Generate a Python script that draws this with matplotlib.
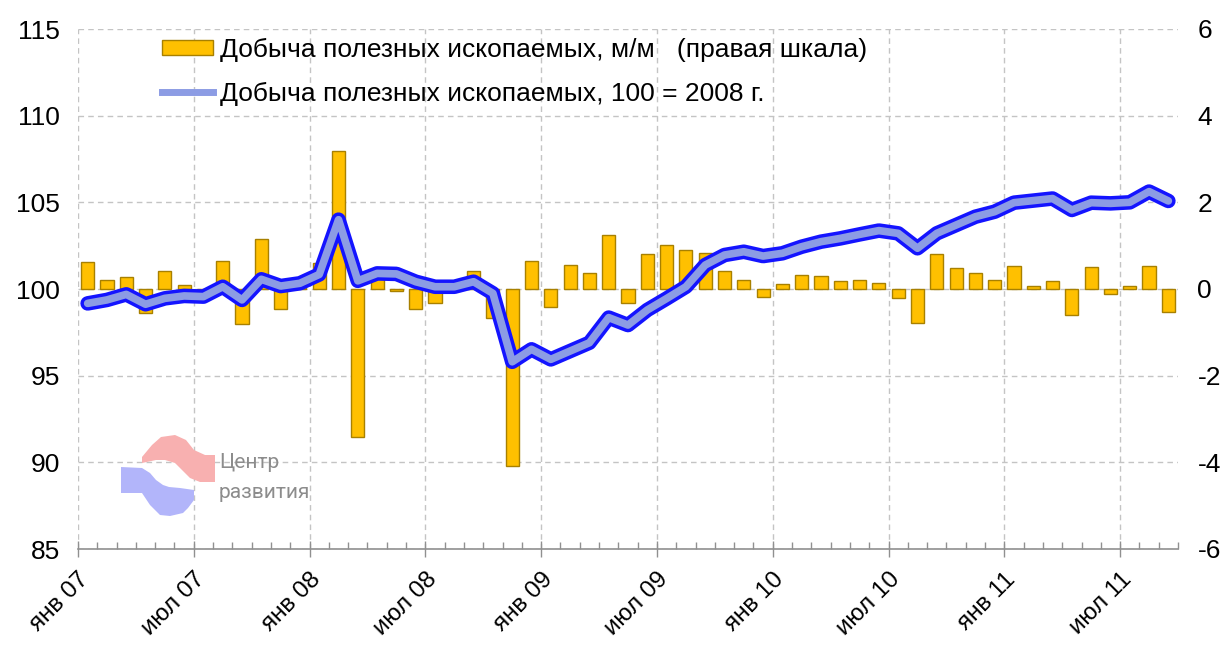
import matplotlib
matplotlib.use("Agg")
import matplotlib.pyplot as plt
from matplotlib.lines import Line2D
from matplotlib.patches import Patch, Polygon
import numpy as np

plt.rcParams['font.family'] = ['Liberation Sans', 'DejaVu Sans']
plt.rcParams['axes.unicode_minus'] = False

# Monthly data Jan 2007 .. Sep 2011
months = [f"{m} {y:02d}" for y in range(7, 12) for m in
          ["янв", "фев", "мар", "апр", "май", "июн", "июл", "авг", "сен", "окт", "ноя", "дек"]][:57]

mom_change = [0.62, 0.21, 0.28, -0.56, 0.42, 0.09, -0.06, 0.65, -0.80, 1.15,
              -0.45, 0.05, 0.59, 3.19, -3.42, 0.22, -0.05, -0.47, -0.33, 0.05,
              0.42, -0.68, -4.08, 0.65, -0.41, 0.56, 0.38, 1.25, -0.33, 0.80,
              1.01, 0.89, 0.83, 0.42, 0.21, -0.18, 0.12, 0.33, 0.30, 0.18,
              0.21, 0.15, -0.21, -0.78, 0.80, 0.48, 0.38, 0.21, 0.54, 0.07,
              0.18, -0.59, 0.51, -0.12, 0.08, 0.54, -0.53]

index_2008 = [99.17, 99.37, 99.69, 99.12, 99.46, 99.60, 99.56, 100.13, 99.37, 100.56,
              100.17, 100.33, 100.84, 104.0, 100.47, 100.90, 100.87, 100.42, 100.13, 100.13,
              100.42, 99.75, 95.80, 96.52, 95.94, 96.42, 96.90, 98.35, 97.92, 98.79,
              99.45, 100.13, 101.38, 101.96, 102.15, 101.90, 102.06, 102.44, 102.73, 102.92,
              103.15, 103.37, 103.21, 102.35, 103.21, 103.69, 104.17, 104.46, 104.98, 105.10,
              105.22, 104.56, 104.98, 104.94, 105.00, 105.62, 105.08]

tick_labels = ["янв 07", "июл 07", "янв 08", "июл 08", "янв 09",
               "июл 09", "янв 10", "июл 10", "янв 11", "июл 11"]

label_bar = "Добыча полезных ископаемых, м/м   (правая шкала)"
label_line = "Добыча полезных ископаемых, 100 = 2008 г."

W, H = 1231, 646
fig = plt.figure(figsize=(W / 100, H / 100), dpi=100)
L, R, T, B = 78, 1178, 29, 549
ax2 = fig.add_axes([L / W, 1 - B / H, (R - L) / W, (B - T) / H])
ax = ax2.twinx()

x = np.arange(len(mom_change))
FS = 19
XFS = 17.5
BAR_C, BAR_E = '#FFC000', '#A88000'
LINE_OUT, LINE_IN = '#1414FF', '#8C9CE4'

# bars on right scale
ax2.bar(x, mom_change, width=0.68, color=BAR_C, edgecolor=BAR_E, linewidth=1.0, zorder=3)
ax2.set_ylim(-6, 6)
ax2.set_xlim(-0.5, len(x) - 0.5)
ax2.set_yticks(np.arange(-6, 7, 2))
ax2.yaxis.tick_right()
ax2.yaxis.set_label_position('right')
ax2.tick_params(axis='y', length=0, labelsize=FS, pad=14, left=False, right=False,
                labelleft=False, labelright=True)

# x axis ticks
major = np.arange(0, len(x), 6) - 0.5
minor = np.arange(len(x) + 1) - 0.5
ax2.set_xticks(major)
ax2.set_xticklabels(tick_labels, rotation=45, ha='right', rotation_mode='anchor', fontsize=XFS)
ax2.set_xticks(minor, minor=True)
ax2.tick_params(axis='x', which='major', direction='inout', length=12, width=1, color='#909090', pad=8)
ax2.tick_params(axis='x', which='minor', direction='in', length=5, width=1, color='#909090')

ax2.grid(True, which='major', axis='both', linestyle=(0, (4, 3)), color='#C4C4C4', linewidth=1)
ax2.set_axisbelow(True)
for s in ['top', 'right', 'left']:
    ax2.spines[s].set_visible(False)
ax2.spines['bottom'].set_color('#909090')
ax2.spines['bottom'].set_linewidth(1.2)

# line on left scale (drawn on top)
ax.set_zorder(ax2.get_zorder() + 1)
ax.patch.set_visible(False)
ax.plot(x, index_2008, color=LINE_OUT, linewidth=10.5, solid_joinstyle='round', solid_capstyle='round', zorder=4)
ax.plot(x, index_2008, color=LINE_IN, linewidth=5.5, solid_joinstyle='round', solid_capstyle='round', zorder=5)
ax.set_ylim(85, 115)
ax.set_yticks(np.arange(85, 116, 5))
ax.yaxis.tick_left()
ax.tick_params(axis='y', length=0, labelsize=FS, pad=13, left=False, right=False,
               labelleft=True, labelright=False)
for s in ax.spines.values():
    s.set_visible(False)

# legend
handles = [Patch(facecolor=BAR_C, edgecolor=BAR_E, linewidth=1.0),
           Line2D([0], [0], color=LINE_IN, linewidth=5)]
leg = ax.legend(handles, [label_bar, label_line], loc='upper left',
                bbox_to_anchor=((162 - L) / (R - L), 1 - (38 - T) / (B - T)),
                frameon=False, fontsize=FS, borderpad=0, borderaxespad=0,
                handlelength=1.93, handleheight=0.5, handletextpad=0.27, labelspacing=0.74)

# watermark logo
def px2fig(pts):
    return [(p[0] / W, 1 - p[1] / H) for p in pts]

pink = [(142, 457), (152, 445), (161, 437), (175, 435), (186, 440), (194, 450),
        (205, 455), (215, 455), (215, 482), (200, 482), (190, 478), (182, 470),
        (175, 463), (165, 460), (156, 460), (142, 463)]
blue = [(121, 467), (142, 468), (150, 473), (156, 480), (163, 485), (169, 487),
        (180, 488), (194, 490), (194, 500), (188, 508), (183, 513), (170, 516),
        (160, 515), (150, 505), (142, 493), (121, 493)]
fig.add_artist(Polygon(px2fig(pink), closed=True, transform=fig.transFigure,
                       facecolor='#F8B0B0', edgecolor='none', zorder=1))
fig.add_artist(Polygon(px2fig(blue), closed=True, transform=fig.transFigure,
                       facecolor='#B2B5FA', edgecolor='none', zorder=1))
fig.text(219 / W, 1 - 463 / H, "Центр", color='#8C8C8C', fontsize=15, va='center', ha='left',
         family=['Roboto', 'DejaVu Sans'])
fig.text(219 / W, 1 - 493 / H, "развития", color='#8C8C8C', fontsize=15, va='center', ha='left',
         family=['Roboto', 'DejaVu Sans'])

fig.savefig("out.png", dpi=100)
